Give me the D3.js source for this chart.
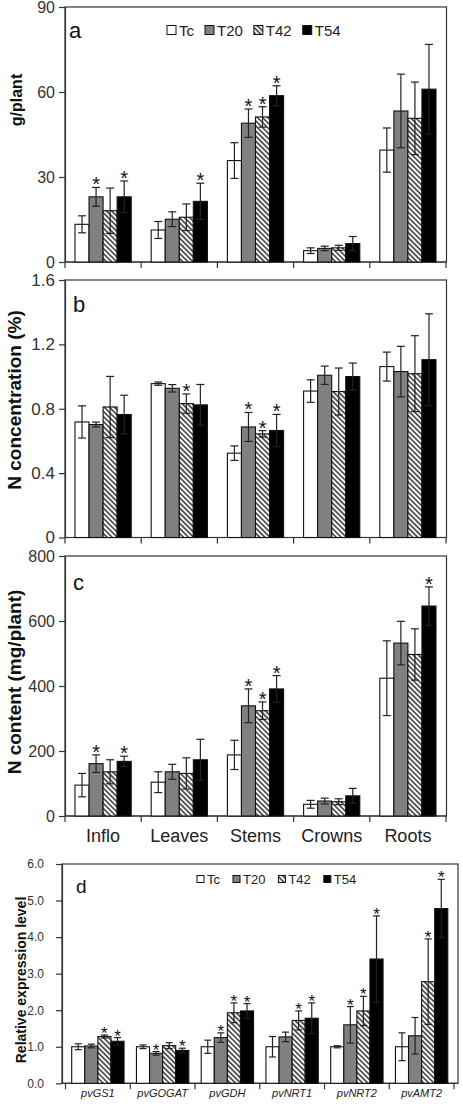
<!DOCTYPE html>
<html><head><meta charset="utf-8">
<script src="https://cdn.jsdelivr.net/npm/d3@7"></script>
<style>body{margin:0;background:#fff} svg{display:block}</style>
</head><body>
<svg id="chart" width="463" height="1106"></svg>
<script>
// ---------- DATA ----------
const treatments = ["Tc", "T20", "T42", "T54"];
const organs = ["Inflo", "Leaves", "Stems", "Crowns", "Roots"];
const genes = ["pvGS1", "pvGOGAT", "pvGDH", "pvNRT1", "pvNRT2", "pvAMT2"];

// (a) biomass g/plant  rows = organs, cols = treatments
const biomassMean = [[13.3, 23.0, 18.1, 23.0], [11.3, 15.1, 15.8, 21.4], [35.8, 49.0, 51.2, 58.7], [4.0, 4.8, 5.0, 6.5], [39.5, 53.3, 50.7, 61.0]];
const biomassErr  = [[3.0, 3.3, 8.0, 5.6], [3.0, 2.6, 4.7, 6.4], [6.3, 5.0, 3.6, 3.5], [1.0, 0.8, 0.9, 2.5], [7.8, 13.0, 12.8, 15.8]];
const biomassSig  = [[0, 1, 0, 1], [0, 0, 0, 1], [0, 1, 1, 1], [0, 0, 0, 0], [0, 0, 0, 0]];
const biomassTicks = [0, 30, 60, 90];

// (b) N concentration %
const nConcMean = [[0.718, 0.702, 0.811, 0.764], [0.956, 0.927, 0.832, 0.824], [0.524, 0.687, 0.644, 0.665], [0.910, 1.008, 0.907, 1.000], [1.062, 1.031, 1.018, 1.105]];
const nConcErr  = [[0.10, 0.015, 0.19, 0.12], [0.01, 0.023, 0.06, 0.127], [0.045, 0.09, 0.02, 0.10], [0.07, 0.057, 0.146, 0.084], [0.09, 0.157, 0.236, 0.285]];
const nConcSig  = [[0, 0, 0, 0], [0, 0, 1, 0], [0, 1, 1, 1], [0, 0, 0, 0], [0, 0, 0, 0]];
const nConcTicks = [0, 0.4, 0.8, 1.2, 1.6];

// (c) N content mg/plant
const nContMean = [[95, 161, 136, 168], [104, 136, 131, 173], [188, 339, 324, 391], [36, 46, 44, 62], [424, 532, 497, 646]];
const nContErr  = [[36, 27, 37, 16], [32, 23, 48, 63], [45, 52, 27, 41], [12, 9, 9, 23], [115, 67, 79, 59]];
const nContSig  = [[0, 1, 0, 1], [0, 0, 0, 0], [0, 1, 1, 1], [0, 0, 0, 0], [0, 0, 0, 1]];
const nContTicks = [0, 200, 400, 600, 800];

// (d) relative expression
const exprMean = [[1.0, 1.02, 1.28, 1.15], [1.0, 0.82, 1.03, 0.90], [1.0, 1.25, 1.93, 1.98], [1.0, 1.27, 1.72, 1.78], [1.0, 1.60, 1.98, 3.40], [1.0, 1.30, 2.78, 4.78]];
const exprErr  = [[0.08, 0.05, 0.04, 0.10], [0.05, 0.05, 0.08, 0.06], [0.18, 0.13, 0.27, 0.20], [0.28, 0.13, 0.26, 0.42], [0.03, 0.50, 0.40, 1.18], [0.38, 0.50, 1.17, 0.80]];
const exprSig  = [[0, 0, 1, 1], [0, 1, 0, 1], [0, 1, 1, 1], [0, 0, 1, 1], [0, 1, 1, 1], [0, 0, 1, 1]];
const exprTicks = [0, 1, 2, 3, 4, 5, 6];

// ---------- DRAWING ----------
const FONT = "'Liberation Sans', Arial, Helvetica, sans-serif";
const svg = d3.select("#chart");
svg.append("rect").attr("width", 463).attr("height", 1106).attr("fill", "#fff");

const defs = svg.append("defs");
const pat = defs.append("pattern").attr("id", "hatch").attr("patternUnits", "userSpaceOnUse")
  .attr("width", 3.6).attr("height", 3.6).attr("patternTransform", "rotate(45)");
pat.append("rect").attr("width", 3.6).attr("height", 3.6).attr("fill", "#fff");
pat.append("line").attr("x1", 0).attr("x2", 3.6).attr("y1", 1.8).attr("y2", 1.8)
  .attr("stroke", "#111").attr("stroke-width", 1.3);

const fills = { Tc: "#ffffff", T20: "#808080", T42: "url(#hatch)", T54: "#000000" };
const AX = "#333";

function panel(o) {
  const g = svg.append("g");
  const x = d3.scaleBand().domain(o.cats).range([o.bandL, o.bandR]).paddingInner(0).paddingOuter(0);
  const xi = d3.scaleBand().domain(treatments).range([o.pad, x.bandwidth() - o.pad]).padding(0);
  const y = d3.scaleLinear().domain([o.ticks[0], o.ticks[o.ticks.length - 1]]).range([o.bottom, o.top]);

  // frame
  g.append("rect").attr("x", o.axisX).attr("y", o.top).attr("width", o.frameR - o.axisX).attr("height", o.bottom - o.top)
    .attr("fill", "none").attr("stroke", AX).attr("stroke-width", 1.2);

  // y axis
  const ya = d3.axisLeft(y).tickValues(o.ticks).tickSize(6).tickSizeOuter(0).tickFormat(o.fmt).tickPadding(o.tickPad);
  const yg = g.append("g").attr("transform", `translate(${o.axisX},0)`).call(ya);
  yg.select(".domain").attr("stroke", AX).attr("stroke-width", 1.2);
  yg.selectAll(".tick line").attr("stroke", AX).attr("stroke-width", 1.2);
  yg.selectAll(".tick text").attr("font-family", FONT).attr("font-size", o.tickFont).attr("fill", "#333");

  // x ticks at band boundaries
  const bounds = o.cats.map(c => x(c)).concat([x(o.cats[o.cats.length - 1]) + x.bandwidth()]);
  g.selectAll("line.xt").data(bounds).join("line").attr("class", "xt")
    .attr("x1", d => d).attr("x2", d => d).attr("y1", o.bottom).attr("y2", o.bottom + 6)
    .attr("stroke", AX).attr("stroke-width", 1.2);
  g.append("line").attr("x1", o.axisX).attr("x2", o.frameR).attr("y1", o.bottom).attr("y2", o.bottom)
    .attr("stroke", AX).attr("stroke-width", 1.2);

  // bars
  const items = [];
  o.cats.forEach((c, i) => treatments.forEach((t, j) => items.push({
    c, t, v: o.mean[i][j], e: o.err[i][j], s: o.sig[i][j]
  })));
  const bg = g.append("g");
  bg.selectAll("rect").data(items).join("rect")
    .attr("x", d => x(d.c) + xi(d.t)).attr("width", xi.bandwidth())
    .attr("y", d => y(d.v)).attr("height", d => y(0) - y(d.v))
    .attr("fill", d => fills[d.t]).attr("stroke", "#111").attr("stroke-width", 1.1);

  // error bars
  const cap = o.cap;
  const eg = g.append("g").attr("stroke", "#222").attr("stroke-width", 1.2);
  items.forEach(d => {
    const cx = x(d.c) + xi(d.t) + xi.bandwidth() / 2;
    const y1 = y(d.v + d.e), y2 = y(Math.max(0, d.v - d.e));
    eg.append("line").attr("x1", cx).attr("x2", cx).attr("y1", y1).attr("y2", y2);
    eg.append("line").attr("x1", cx - cap).attr("x2", cx + cap).attr("y1", y1).attr("y2", y1);
    eg.append("line").attr("x1", cx - cap).attr("x2", cx + cap).attr("y1", y2).attr("y2", y2);
  });

  // asterisks
  g.selectAll("text.star").data(items.filter(d => d.s)).join("text").attr("class", "star")
    .attr("x", d => x(d.c) + xi(d.t) + xi.bandwidth() / 2)
    .attr("y", d => y(d.v + d.e) - o.starGap)
    .attr("text-anchor", "middle").attr("font-family", FONT).attr("font-size", o.starFont)
    .attr("fill", "#111").text("*");

  // category labels
  g.selectAll("text.cat").data(o.catLabels ? o.cats : []).join("text").attr("class", "cat")
    .attr("x", d => x(d) + x.bandwidth() / 2).attr("y", o.catY)
    .attr("text-anchor", "middle").attr("font-family", FONT).attr("font-size", o.catFont)
    .attr("font-style", o.catItalic ? "italic" : "normal").attr("fill", "#222").text(d => d);

  // panel letter
  g.append("text").attr("x", o.letterX).attr("y", o.letterY).attr("font-family", FONT)
    .attr("font-size", o.letterFont).attr("fill", "#111").text(o.letter);

  // y title
  g.append("text").attr("transform", `translate(${o.titleX},${o.titleY}) rotate(-90)`)
    .attr("text-anchor", "middle").attr("dominant-baseline", "central")
    .attr("font-family", FONT).attr("font-weight", "bold").attr("font-size", o.titleFont)
    .attr("fill", "#111").text(o.title);

  // legend
  if (o.legend) {
    const L = o.legend;
    let lx = L.x;
    treatments.forEach(t => {
      g.append("rect").attr("x", lx).attr("y", L.y - L.box / 2).attr("width", L.box).attr("height", L.box)
        .attr("fill", fills[t]).attr("stroke", "#111").attr("stroke-width", 1);
      const tx = g.append("text").attr("x", lx + L.box + L.tgap).attr("y", L.y).attr("dominant-baseline", "central")
        .attr("font-family", FONT).attr("font-size", L.font).attr("fill", "#222").text(t);
      lx += L.box + L.tgap + tx.node().getComputedTextLength() + L.gap;
    });
  }
}

const abcCommon = { cats: organs, axisX: 65, frameR: 446.5, bandL: 65, bandR: 446, pad: 10, cap: 4,
  starGap: -4, starFont: 20, tickPad: 4, catFont: 18 };

panel(Object.assign({}, abcCommon, {
  top: 7, bottom: 262, ticks: biomassTicks, fmt: d3.format("d"),
  mean: biomassMean, err: biomassErr, sig: biomassSig, tickFont: 16,
  letter: "a", letterX: 69, letterY: 38, letterFont: 22,
  title: "g/plant", titleX: 16, titleY: 100, titleFont: 16,
  legend: { x: 167, y: 30, box: 9, tgap: 3, font: 15, gap: 11 }
}));

panel(Object.assign({}, abcCommon, {
  top: 280, bottom: 537.5, ticks: nConcTicks, fmt: d => d === 0 ? "0" : d3.format(".1f")(d),
  mean: nConcMean, err: nConcErr, sig: nConcSig, tickFont: 17,
  letter: "b", letterX: 73, letterY: 312, letterFont: 22,
  title: "N concentration (%)", titleX: 14, titleY: 400, titleFont: 19
}));

panel(Object.assign({}, abcCommon, {
  top: 556, bottom: 816, ticks: nContTicks, fmt: d3.format("d"),
  mean: nContMean, err: nContErr, sig: nContSig, tickFont: 16,
  letter: "c", letterX: 73, letterY: 590, letterFont: 22,
  title: "N content  (mg/plant)", titleX: 14, titleY: 682, titleFont: 19,
  catLabels: true, catY: 842
}));

panel({
  cats: genes, axisX: 62, frameR: 458, bandL: 65.5, bandR: 454, pad: 6.2, cap: 3.5,
  starGap: -4, starFont: 17, tickPad: 12, catFont: 11, catItalic: true,
  top: 864, bottom: 1083.3, ticks: exprTicks, fmt: d3.format(".1f"),
  mean: exprMean, err: exprErr, sig: exprSig, tickFont: 12,
  letter: "d", letterX: 76, letterY: 893, letterFont: 19,
  title: "Relative expression level", titleX: 21, titleY: 980, titleFont: 14,
  catLabels: true, catY: 1097,
  legend: { x: 197, y: 879, box: 7, tgap: 3, font: 13, gap: 13 }
});
</script>
</body></html>
